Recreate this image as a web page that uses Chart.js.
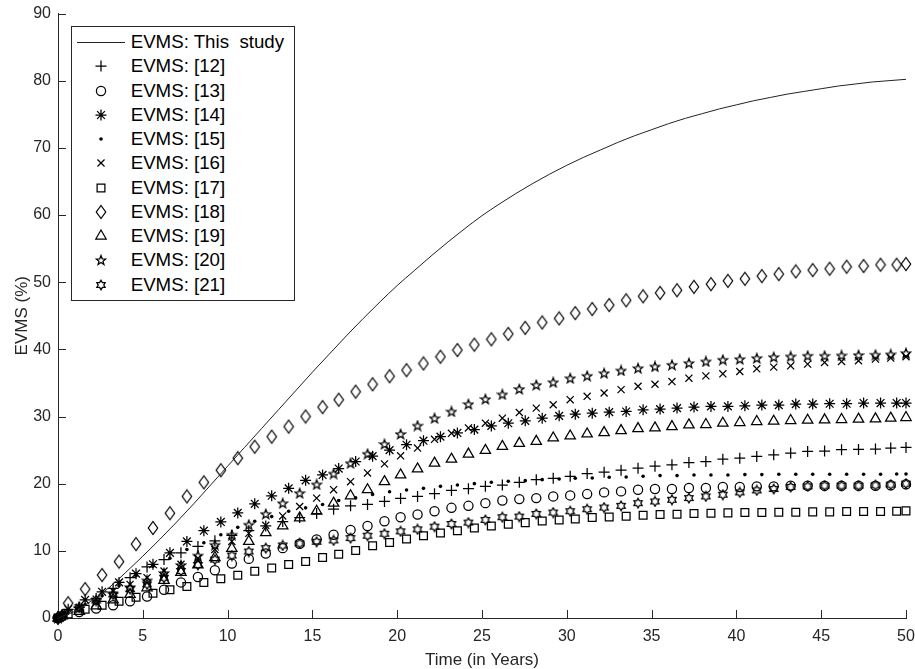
<!DOCTYPE html>
<html>
<head>
<meta charset="utf-8">
<script src="https://cdn.jsdelivr.net/npm/chart.js@4.4.1/dist/chart.umd.min.js"></script>
<style>
  html, body { margin: 0; padding: 0; background: #fff; }
  #wrap { position: relative; width: 915px; height: 669px; }
  #legend {
    position: absolute; left: 71px; top: 26px; width: 224px; height: 275px;
    box-sizing: border-box; border: 1px solid #262626; background: #fff;
    padding-top: 3px;
    font-family: "Liberation Sans", Arial, sans-serif; font-size: 18.7px; color: #000;
  }
  .row { position: relative; height: 24.27px; }
  .row canvas { position: absolute; left: 4px; top: 0; }
  .row span { position: absolute; left: 58.7px; top: 0; line-height: 24.27px; white-space: pre; }
</style>
</head>
<body>
<div id="wrap">
  <canvas id="chart" width="915" height="669"></canvas>
  <div id="legend"></div>
</div>
<script>
// ---- DATA ----
const xTicks = [0, 5, 10, 15, 20, 25, 30, 35, 40, 45, 50];
const yTicks = [0, 10, 20, 30, 40, 50, 60, 70, 80, 90];

// model curve (this study)
const tLine = [0, 1, 2, 3, 4, 5, 6, 7, 8, 9, 10, 11, 12, 13, 14, 15, 16, 17, 18, 19, 20,
  21, 22, 23, 24, 25, 26, 27, 28, 29, 30, 31, 32, 33, 34, 35, 36, 37, 38, 39, 40,
  41, 42, 43, 44, 45, 46, 47, 48, 49, 50];
const thisStudy = [0, 1.0, 2.6, 4.5, 6.8, 9.2, 11.7, 14.3, 17.0, 19.8, 22.6, 25.4, 28.2, 31.0, 33.8, 36.6, 39.3, 42.0, 44.6, 47.1, 49.5,
  51.7, 53.9, 56.0, 58.0, 59.9, 61.6, 63.2, 64.7, 66.1, 67.4, 68.6, 69.7, 70.8, 71.8, 72.7, 73.6, 74.4, 75.1, 75.8, 76.4,
  77.0, 77.5, 78.0, 78.4, 78.8, 79.2, 79.5, 79.8, 80.0, 80.2];

// sample times of the reference series (two grids)
const tA = [0, 0.6, 1.6, 2.6, 3.6, 4.6, 5.6, 6.6, 7.6, 8.6, 9.6, 10.6, 11.6, 12.6, 13.6, 14.6, 15.6,
  16.55, 17.55, 18.55, 19.55, 20.55, 21.55, 22.55, 23.55, 24.55, 25.55, 26.55, 27.55, 28.55, 29.55,
  30.5, 31.5, 32.5, 33.5, 34.5, 35.5, 36.5, 37.5, 38.5, 39.5, 40.5, 41.5, 42.5, 43.5, 44.5, 45.5,
  46.5, 47.5, 48.5, 49.45, 50];
const tB = [0, 0.25, 1.25, 2.25, 3.25, 4.25, 5.25, 6.25, 7.25, 8.25, 9.25, 10.25, 11.25, 12.25, 13.25,
  14.25, 15.25, 16.25, 17.25, 18.25, 19.25, 20.2, 21.2, 22.2, 23.2, 24.2, 25.2, 26.2, 27.2, 28.2, 29.2,
  30.2, 31.2, 32.2, 33.2, 34.2, 35.2, 36.2, 37.2, 38.2, 39.2, 40.2, 41.2, 42.2, 43.2, 44.2, 45.2,
  46.2, 47.2, 48.2, 49.1, 50];

// values on grid A
const ref14 = [0, 1.3, 2.7, 3.9, 5.3, 6.6, 8.0, 9.7, 11.4, 13.0, 14.3, 15.65, 17.0, 18.2, 19.3, 20.5, 21.3,
  22.25, 23.3, 24.1, 25.0, 25.8, 26.4, 27.0, 27.55, 28.05, 28.6, 29.0, 29.35, 29.75, 30.1,
  30.35, 30.5, 30.65, 30.75, 31.0, 31.1, 31.25, 31.4, 31.5, 31.5, 31.6, 31.7, 31.7, 31.85, 31.85, 31.9,
  31.9, 32.0, 32.0, 32.0, 32.0];
const ref15 = [0, 0.8, 2.0, 3.3, 4.8, 6.3, 7.7, 8.9, 10.2, 11.2, 12.4, 13.5, 14.4, 15.1, 15.9, 16.4, 16.9,
  17.5, 17.9, 18.4, 18.8, 19.05, 19.3, 19.6, 19.8, 20.0, 20.2, 20.35, 20.45, 20.6, 20.7,
  20.8, 20.85, 20.95, 21.0, 21.1, 21.2, 21.2, 21.3, 21.3, 21.3, 21.35, 21.35, 21.4, 21.4, 21.4, 21.4,
  21.4, 21.4, 21.4, 21.45, 21.45];
const ref17 = [0, 0.6, 1.3, 1.9, 2.5, 3.1, 3.7, 4.2, 4.7, 5.3, 5.85, 6.35, 6.95, 7.45, 7.95, 8.4, 9.0,
  9.5, 10.05, 10.75, 11.25, 11.75, 12.25, 12.65, 13.0, 13.4, 13.7, 13.95, 14.2, 14.45, 14.6,
  14.75, 14.95, 15.05, 15.15, 15.3, 15.4, 15.45, 15.55, 15.6, 15.65, 15.7, 15.7, 15.75, 15.75, 15.8, 15.8,
  15.85, 15.85, 15.85, 15.9, 15.95];
const ref18 = [0, 2.2, 4.3, 6.4, 8.4, 11.0, 13.4, 15.6, 18.1, 20.2, 22.0, 23.8, 25.5, 27.0, 28.5, 30.0, 31.4,
  32.5, 33.7, 34.8, 36.0, 36.9, 37.9, 38.9, 39.9, 40.7, 41.5, 42.3, 43.2, 44.0, 44.6,
  45.4, 46.0, 46.6, 47.3, 47.9, 48.4, 48.8, 49.3, 49.7, 50.2, 50.5, 50.9, 51.2, 51.6, 51.8, 52.0,
  52.3, 52.4, 52.6, 52.6, 52.7];

// values on grid B
const ref12 = [0, 0.3, 1.6, 2.9, 4.4, 6.0, 7.6, 8.7, 9.7, 10.65, 11.5, 12.3, 13.0, 13.7, 14.35, 14.95, 15.55,
  16.2, 16.7, 16.9, 17.35, 17.8, 18.1, 18.5, 19.0, 19.25, 19.6, 19.8, 20.2, 20.6, 20.8,
  21.1, 21.5, 21.7, 22.0, 22.3, 22.6, 22.8, 23.15, 23.3, 23.65, 23.8, 24.05, 24.3, 24.55, 24.8, 24.85,
  25.05, 25.1, 25.15, 25.3, 25.4];
const ref13 = [0, 0.3, 0.9, 1.4, 1.9, 2.5, 3.2, 4.2, 5.3, 6.1, 7.1, 8.1, 8.8, 9.6, 10.4, 11.05, 11.7,
  12.4, 13.1, 13.7, 14.4, 15.0, 15.4, 15.9, 16.4, 16.7, 17.1, 17.5, 17.7, 17.85, 18.1,
  18.25, 18.45, 18.7, 18.85, 19.1, 19.2, 19.2, 19.35, 19.35, 19.5, 19.5, 19.6, 19.6, 19.7, 19.7, 19.7,
  19.7, 19.7, 19.7, 19.75, 19.9];
const ref16 = [0, 0.4, 1.6, 2.8, 4.0, 5.0, 6.0, 7.0, 8.0, 8.9, 10.2, 11.4, 12.6, 13.8, 15.2, 16.6, 17.85,
  19.1, 20.3, 21.6, 22.95, 24.15, 25.3, 26.6, 27.5, 28.3, 29.0, 29.75, 30.6, 31.25, 31.75,
  32.5, 33.0, 33.5, 34.0, 34.5, 34.8, 35.2, 35.7, 36.05, 36.35, 36.7, 37.1, 37.35, 37.55, 37.8, 38.05,
  38.2, 38.3, 38.55, 38.7, 38.9];
const ref19 = [0, 0.3, 1.0, 1.8, 2.7, 3.5, 4.5, 5.6, 6.8, 7.9, 9.0, 10.35, 11.4, 12.7, 13.7, 14.9, 15.9,
  17.1, 18.2, 19.1, 20.3, 21.3, 22.2, 23.05, 23.65, 24.4, 24.95, 25.55, 26.0, 26.3, 26.8,
  27.1, 27.4, 27.6, 27.9, 28.2, 28.3, 28.5, 28.75, 28.8, 29.0, 29.1, 29.25, 29.3, 29.4, 29.45, 29.5,
  29.55, 29.6, 29.65, 29.75, 29.85];
const ref20 = [0, 0.4, 1.5, 2.6, 3.6, 4.6, 5.6, 6.7, 7.9, 9.3, 10.9, 12.4, 13.9, 15.5, 17.1, 18.6, 19.9,
  21.5, 23.05, 24.45, 25.9, 27.4, 28.65, 29.75, 30.75, 31.85, 32.6, 33.3, 34.1, 34.7, 35.1,
  35.7, 36.05, 36.45, 36.85, 37.2, 37.45, 37.7, 37.95, 38.2, 38.45, 38.55, 38.7, 38.85, 38.95, 39.05, 39.05,
  39.1, 39.15, 39.2, 39.25, 39.45];
const ref21 = [0, 0.5, 1.6, 2.6, 3.5, 4.3, 5.0, 6.0, 7.0, 7.9, 8.7, 9.3, 9.9, 10.4, 10.8, 11.1, 11.35,
  11.55, 11.9, 12.25, 12.55, 12.9, 13.2, 13.6, 14.0, 14.2, 14.6, 15.0, 15.1, 15.5, 15.7,
  15.9, 16.2, 16.45, 16.7, 17.1, 17.35, 17.6, 17.85, 18.1, 18.35, 18.7, 19.0, 19.2, 19.5, 19.6, 19.7,
  19.7, 19.7, 19.75, 19.85, 20.0];

// ---- STYLE ----
const FONT = '"Liberation Sans", Arial, Helvetica, sans-serif';
const AXIS_COLOR = '#262626';
const TICK_LEN = 8;
const MK_LW = 1.25;

// small canvases for marker shapes Chart.js lacks
function makeMarker(w, h, draw) {
  const c = document.createElement('canvas');
  c.width = w; c.height = h;
  const g = c.getContext('2d');
  g.strokeStyle = '#000';
  g.lineWidth = MK_LW;
  g.lineJoin = 'miter';
  draw(g, w / 2, h / 2);
  return c;
}
function starPath(g, cx, cy, n, R, r) {
  g.beginPath();
  for (let i = 0; i < 2 * n; i++) {
    const a = -Math.PI / 2 + i * Math.PI / n;
    const rr = i % 2 === 0 ? R : r;
    const px = cx + rr * Math.cos(a), py = cy + rr * Math.sin(a);
    i === 0 ? g.moveTo(px, py) : g.lineTo(px, py);
  }
  g.closePath();
  g.stroke();
}
const diamondImg = makeMarker(12, 16, (g, cx, cy) => {
  g.beginPath();
  g.moveTo(cx, 1.5); g.lineTo(10.7, cy); g.lineTo(cx, 14.5); g.lineTo(1.3, cy);
  g.closePath(); g.stroke();
});
const pentaImg = makeMarker(12, 12, (g, cx, cy) => starPath(g, cx, cy + 0.5, 5, 5, 2.1));
const hexaImg = makeMarker(12, 12, (g, cx, cy) => starPath(g, cx, cy, 6, 4.8, 2.8));

const series = [
  { label: 'EVMS: [12]', t: tB, v: ref12, style: 'cross',     r: 5.5 },
  { label: 'EVMS: [13]', t: tB, v: ref13, style: 'circle',    r: 4.6 },
  { label: 'EVMS: [14]', t: tA, v: ref14, style: 'star',      r: 5.5 },
  { label: 'EVMS: [15]', t: tA, v: ref15, style: 'circle',    r: 1.8, fill: true },
  { label: 'EVMS: [16]', t: tB, v: ref16, style: 'crossRot',  r: 5 },
  { label: 'EVMS: [17]', t: tA, v: ref17, style: 'rect',      r: 5.5 },
  { label: 'EVMS: [18]', t: tA, v: ref18, style: diamondImg,  r: 6 },
  { label: 'EVMS: [19]', t: tB, v: ref19, style: 'triangle',  r: 6 },
  { label: 'EVMS: [20]', t: tB, v: ref20, style: pentaImg,    r: 5 },
  { label: 'EVMS: [21]', t: tB, v: ref21, style: hexaImg,     r: 5 },
];

const datasets = [{
  label: 'EVMS: This  study',
  data: tLine.map((t, i) => ({ x: t, y: thisStudy[i] })),
  showLine: true,
  borderColor: '#222',
  borderWidth: 1,
  pointRadius: 0,
  cubicInterpolationMode: 'monotone',
  clip: false,
}].concat(series.map(s => ({
  label: s.label,
  data: s.t.map((t, i) => ({ x: t, y: s.v[i] })),
  showLine: false,
  pointStyle: s.style,
  pointRadius: s.r,
  pointBorderColor: '#000',
  pointBackgroundColor: s.fill ? '#000' : 'rgba(0,0,0,0)',
  pointBorderWidth: s.fill ? 0 : MK_LW,
  clip: false,
})));

// ---- INWARD TICK MARKS ----
const inwardTicks = {
  id: 'inwardTicks',
  beforeDatasetsDraw(chart) {
    const { ctx, chartArea: a, scales: { x, y } } = chart;
    ctx.save();
    ctx.strokeStyle = AXIS_COLOR;
    ctx.lineWidth = 1;
    ctx.beginPath();
    x.ticks.forEach(tk => {
      const px = Math.round(x.getPixelForValue(tk.value)) + 0.5;
      ctx.moveTo(px, a.bottom); ctx.lineTo(px, a.bottom - TICK_LEN);
    });
    y.ticks.forEach(tk => {
      const py = Math.round(y.getPixelForValue(tk.value)) + 0.5;
      ctx.moveTo(a.left, py); ctx.lineTo(a.left + TICK_LEN, py);
    });
    ctx.stroke();
    ctx.restore();
  }
};

// fixed axes box: drop the label-overflow padding Chart.js adds
function noOverflow(s) {
  s.paddingLeft = 0; s.paddingRight = 0; s.paddingTop = 0; s.paddingBottom = 0;
}

new Chart(document.getElementById('chart'), {
  type: 'scatter',
  data: { datasets },
  options: {
    responsive: false,
    animation: false,
    events: [],
    layout: { padding: { left: 0, right: 9, top: 13.5, bottom: 0 } },
    plugins: { legend: { display: false }, tooltip: { enabled: false } },
    scales: {
      x: {
        type: 'linear', min: 0, max: 50,
        afterBuildTicks: s => { s.ticks = xTicks.map(v => ({ value: v })); },
        afterFit: s => { s.height = 51; noOverflow(s); },
        grid: { display: false, drawTicks: false },
        border: { display: true, color: AXIS_COLOR, width: 1 },
        ticks: { color: AXIS_COLOR, padding: 9, font: { family: FONT, size: 16 }, maxRotation: 0 },
        title: {
          display: true, text: 'Time (in Years)', color: AXIS_COLOR,
          font: { family: FONT, size: 17, lineHeight: 1 }, padding: { top: 0, bottom: 0.5 },
        },
      },
      y: {
        type: 'linear', min: 0, max: 90,
        afterBuildTicks: s => { s.ticks = yTicks.map(v => ({ value: v })); },
        afterFit: s => { s.width = 58; noOverflow(s); },
        grid: { display: false, drawTicks: false },
        border: { display: true, color: AXIS_COLOR, width: 1 },
        ticks: { color: AXIS_COLOR, padding: 7, font: { family: FONT, size: 16 } },
        title: {
          display: true, text: 'EVMS (%)', color: AXIS_COLOR,
          font: { family: FONT, size: 17, lineHeight: 1 }, padding: { top: 13.5, bottom: 0 },
        },
      },
    },
  },
  plugins: [inwardTicks],
});

// ---- LEGEND (inside the axes, boxed) ----
const legend = document.getElementById('legend');
datasets.forEach((ds, i) => {
  const row = document.createElement('div');
  row.className = 'row';
  const c = document.createElement('canvas');
  c.width = 50; c.height = 24;
  const g = c.getContext('2d');
  if (i === 0) {
    g.strokeStyle = ds.borderColor; g.lineWidth = 1;
    g.beginPath(); g.moveTo(1, 12.5); g.lineTo(49, 12.5); g.stroke();
  } else if (Chart.helpers && Chart.helpers.drawPoint) {
    g.strokeStyle = '#000';
    g.fillStyle = ds.pointBackgroundColor;
    g.lineWidth = ds.pointBorderWidth;
    Chart.helpers.drawPoint(g, {
      pointStyle: ds.pointStyle, radius: ds.pointRadius, rotation: 0, borderWidth: ds.pointBorderWidth
    }, 25, 12);
  }
  const sp = document.createElement('span');
  sp.textContent = ds.label;
  row.appendChild(c);
  row.appendChild(sp);
  legend.appendChild(row);
});
</script>
</body>
</html>
